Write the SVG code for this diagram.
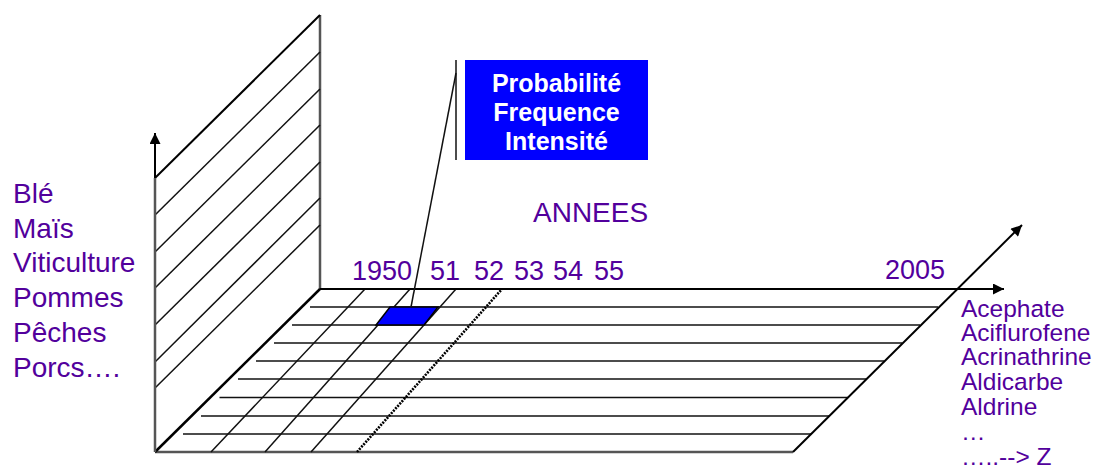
<svg xmlns="http://www.w3.org/2000/svg" width="1100" height="466" viewBox="0 0 1100 466">
  <defs>
    <marker id="arrow" viewBox="0 0 10 10" refX="10" refY="5" markerWidth="12" markerHeight="11" markerUnits="userSpaceOnUse" orient="auto">
      <path d="M0,0 L10,5 L0,10 z" fill="#000"/>
    </marker>
    <style>
      .thin { stroke: #111; stroke-width: 1.5; fill: none; }
      .edge { stroke: #555; stroke-width: 2.5; fill: none; }
      .thick { stroke: #000; stroke-width: 2.5; fill: none; }
      .axis { stroke: #000; stroke-width: 2; fill: none; }
      .lbl { font-family: "Liberation Sans", Arial, sans-serif; fill: #52009C; }
      .big { font-size: 28px; }
      .yr { font-size: 27px; }
      .small { font-size: 24.5px; }
      .box { font-family: "Liberation Sans", Arial, sans-serif; font-weight: bold; font-size: 25px; fill: #fff; text-anchor: middle; }
    </style>
  </defs>

  <g id="wall">
    <line class="edge" x1="320" y1="15" x2="320" y2="289"/>
    <line class="axis" x1="155" y1="178" x2="320" y2="15"/>
    <line class="thin" x1="155" y1="215" x2="320" y2="52"/>
    <line class="thin" x1="155" y1="252" x2="320" y2="89"/>
    <line class="thin" x1="155" y1="288" x2="320" y2="125"/>
    <line class="thin" x1="155" y1="325" x2="320" y2="162"/>
    <line class="thin" x1="155" y1="362" x2="320" y2="198"/>
    <line class="thin" x1="155" y1="388" x2="320" y2="225"/>
  </g>

  <g id="floor">
    <line class="thin" x1="310" y1="307" x2="938" y2="307"/>
    <line class="thin" x1="292" y1="325" x2="920" y2="325"/>
    <line class="thin" x1="274" y1="343" x2="902" y2="343"/>
    <line class="thin" x1="256" y1="361" x2="884" y2="361"/>
    <line class="thin" x1="238" y1="379" x2="866" y2="379"/>
    <line class="thin" x1="219.5" y1="397.5" x2="847.5" y2="397.5"/>
    <line class="thin" x1="201" y1="416" x2="829" y2="416"/>
    <line class="thin" x1="183" y1="434" x2="811" y2="434"/>
    <line class="edge" x1="155" y1="452" x2="793" y2="452"/>
    <line class="thick" x1="155" y1="452" x2="320" y2="289"/>
    <line class="thin" x1="211" y1="452" x2="365" y2="289"/>
    <line class="thin" x1="265" y1="452" x2="410" y2="289"/>
    <line class="thin" x1="311" y1="452" x2="456" y2="289"/>
    <line x1="357" y1="452" x2="502" y2="289" stroke="#000" stroke-width="2.6" stroke-dasharray="2 1.2"/>
  </g>

  <g id="cell">
    <polygon points="390,307 438,307 424,325 376,325" fill="#0000FF" stroke="#000" stroke-width="1.5"/>
  </g>

  <g id="connectors">
    <line class="edge" x1="155" y1="452" x2="155" y2="178"/>
    <line class="axis" x1="155" y1="178" x2="155" y2="133" marker-end="url(#arrow)"/>
    <line class="axis" x1="320" y1="289" x2="1004" y2="289" marker-end="url(#arrow)"/>
    <line class="axis" x1="793" y1="452" x2="1022" y2="225" marker-end="url(#arrow)"/>
    <line class="thin" x1="411" y1="307" x2="456" y2="73"/>
    <line class="thin" x1="456" y1="60" x2="456" y2="160"/>
  </g>

  <g id="callout">
    <rect x="465" y="60" width="183" height="100" fill="#0000FF"/>
    <text class="box" x="556.5" y="92">Probabilité</text>
    <text class="box" x="556.5" y="121">Frequence</text>
    <text class="box" x="556.5" y="150">Intensité</text>
  </g>

  <g id="crops" class="lbl big">
    <text x="13" y="203">Blé</text>
    <text x="13" y="238">Maïs</text>
    <text x="13" y="272">Viticulture</text>
    <text x="13" y="307">Pommes</text>
    <text x="13" y="342">Pêches</text>
    <text x="13" y="377">Porcs….</text>
  </g>

  <g id="years" class="lbl yr">
    <text x="533" y="222" font-size="28">ANNEES</text>
    <text x="352" y="280">1950</text>
    <text x="430" y="280">51</text>
    <text x="474" y="280">52</text>
    <text x="514" y="280">53</text>
    <text x="553" y="280">54</text>
    <text x="594" y="280">55</text>
    <text x="885" y="279">2005</text>
  </g>

  <g id="substances" class="lbl small">
    <text x="961" y="317">Acephate</text>
    <text x="961" y="341">Aciflurofene</text>
    <text x="961" y="365">Acrinathrine</text>
    <text x="961" y="390">Aldicarbe</text>
    <text x="961" y="415">Aldrine</text>
    <text x="961" y="440">…</text>
    <text x="961" y="465">…..--&gt; Z</text>
  </g>
</svg>
